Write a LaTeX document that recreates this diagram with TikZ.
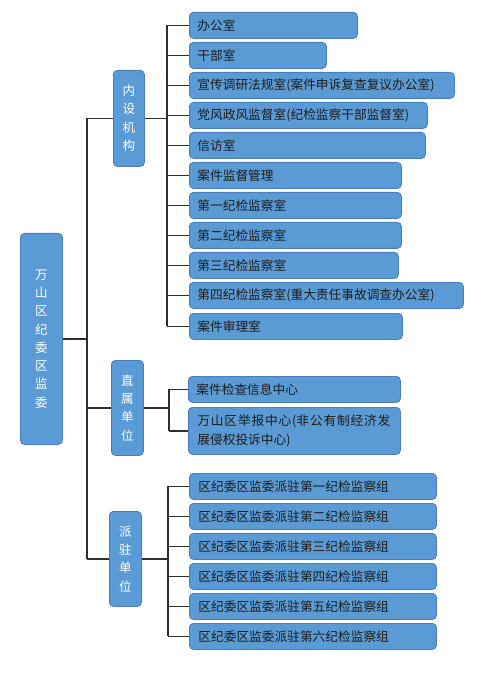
\documentclass[tikz,border=0pt]{standalone}
\usepackage{fontspec}
\setmainfont{Noto Sans CJK SC}
\definecolor{boxfill}{HTML}{5B9BD5}
\definecolor{boxedge}{HTML}{4A7EBB}
\definecolor{leaftext}{HTML}{1C1C1C}
\definecolor{linecol}{HTML}{2E2E2E}
\tikzset{
  base/.style={draw=boxedge, fill=boxfill, line width=0.8pt, rounded corners=4pt, inner sep=0pt, anchor=north west},
  leaf/.style={base, minimum height=26pt, text=leaftext, align=left, inner xsep=8pt, font={\fontsize{12.7}{19}\selectfont}},
  vbox/.style={base, text=white, align=center, font={\fontsize{12.5}{18.3}\selectfont}},
  conn/.style={draw=linecol, line width=1.2pt}
}
\begin{document}
\begin{tikzpicture}[x=1pt,y=-1pt]
\useasboundingbox (0,0) rectangle (500,684);
% root and level 1
\node[vbox, minimum width=42pt, minimum height=211pt] (root) at (20,233) {万\\山\\区\\纪\\委\\区\\监\\委};
\node[vbox, minimum width=31pt, minimum height=96pt] (nsjg) at (113,70) {内\\设\\机\\构};
\node[vbox, minimum width=32pt, minimum height=95pt] (zsdw) at (111,360) {直\\属\\单\\位};
\node[vbox, minimum width=32pt, minimum height=95pt] (pzdw) at (109,511) {派\\驻\\单\\位};
% level 2: internal
\node[leaf, minimum width=168pt, text width=152pt] (bgs) at (189,12) {办公室};
\node[leaf, minimum width=137pt, text width=121pt] (gbs) at (189,42) {干部室};
\node[leaf, minimum width=265pt, text width=249pt] (xcdy) at (189,72) {宣传调研法规室(案件申诉复查复议办公室)};
\node[leaf, minimum width=238pt, text width=222pt] (dfzf) at (189,102) {党风政风监督室(纪检监察干部监督室)};
\node[leaf, minimum width=236pt, text width=220pt] (xfs) at (189,132) {信访室};
\node[leaf, minimum width=212pt, text width=196pt] (ajjd) at (189,162) {案件监督管理};
\node[leaf, minimum width=212pt, text width=196pt] (d1) at (189,192) {第一纪检监察室};
\node[leaf, minimum width=212pt, text width=196pt] (d2) at (189,222) {第二纪检监察室};
\node[leaf, minimum width=209pt, text width=193pt] (d3) at (189,252) {第三纪检监察室};
\node[leaf, minimum width=274pt, text width=258pt] (d4) at (189,282) {第四纪检监察室(重大责任事故调查办公室)};
\node[leaf, minimum width=213pt, text width=197pt] (ajsl) at (189,313) {案件审理室};
% level 2: direct
\node[leaf, minimum width=212pt, text width=196pt] (ajjc) at (188,376) {案件检查信息中心};
\node[leaf, minimum width=212pt, minimum height=47pt, text width=194pt, inner xsep=9pt] (jbzx) at (188,407)
  {\hbox to 193pt{万\hfill 山\hfill 区\hfill 举\hfill 报\hfill 中\hfill 心\hfill (非\hfill 公\hfill 有\hfill 制\hfill 经\hfill 济\hfill 发}\\展侵权投诉中心)};
% level 2: stationed
\node[leaf, minimum width=247pt, text width=229pt, inner xsep=9pt] (p1) at (189,473) {区纪委区监委派驻第一纪检监察组};
\node[leaf, minimum width=247pt, text width=229pt, inner xsep=9pt] (p2) at (189,503) {区纪委区监委派驻第二纪检监察组};
\node[leaf, minimum width=247pt, text width=229pt, inner xsep=9pt] (p3) at (189,533) {区纪委区监委派驻第三纪检监察组};
\node[leaf, minimum width=247pt, text width=229pt, inner xsep=9pt] (p4) at (189,563) {区纪委区监委派驻第四纪检监察组};
\node[leaf, minimum width=247pt, text width=229pt, inner xsep=9pt] (p5) at (189,593) {区纪委区监委派驻第五纪检监察组};
\node[leaf, minimum width=247pt, text width=229pt, inner xsep=9pt] (p6) at (189,623) {区纪委区监委派驻第六纪检监察组};
% connectors
\coordinate (tk) at (87,0);
\coordinate (b1) at (167,0);
\coordinate (b2) at (169,0);
\coordinate (b3) at (168,0);
\draw[conn] (root.east) -- (root.east -| tk);
\draw[conn] (nsjg.west -| tk) -- (pzdw.west -| tk);
\foreach \n in {nsjg,zsdw,pzdw} \draw[conn] (\n.west -| tk) -- (\n.west);
% branch 1
\draw[conn] (nsjg.east) -- (nsjg.east -| b1);
\draw[conn] (b1 |- bgs.west) -- (b1 |- ajsl.west);
\foreach \n in {bgs,gbs,xcdy,dfzf,xfs,ajjd,d1,d2,d3,d4,ajsl} \draw[conn] (b1 |- \n.west) -- (\n.west);
% branch 2
\draw[conn] (zsdw.east) -- (zsdw.east -| b2);
\draw[conn] (b2 |- ajjc.west) -- (b2 |- jbzx.west);
\foreach \n in {ajjc,jbzx} \draw[conn] (b2 |- \n.west) -- (\n.west);
% branch 3
\draw[conn] (pzdw.east) -- (pzdw.east -| b3);
\draw[conn] (b3 |- p1.west) -- (b3 |- p6.west);
\foreach \n in {p1,p2,p3,p4,p5,p6} \draw[conn] (b3 |- \n.west) -- (\n.west);
\end{tikzpicture}
\end{document}
